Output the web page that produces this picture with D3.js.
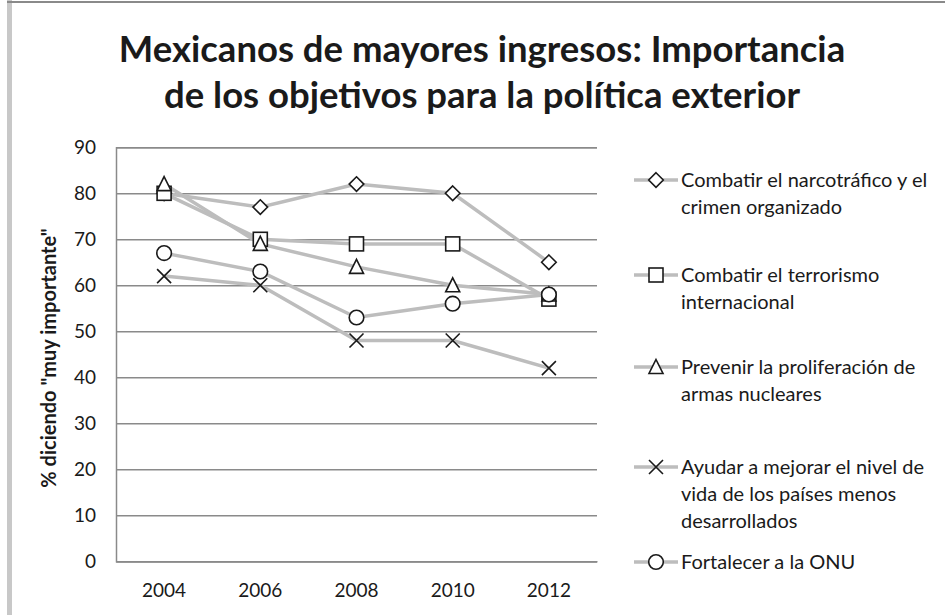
<!DOCTYPE html>
<html><head><meta charset="utf-8">
<script src="https://cdn.jsdelivr.net/npm/d3@7"></script>
<style>
html,body{margin:0;padding:0;background:#fff;}
svg{display:block;}
text{font-family:Lato,"Open Sans",sans-serif;fill:#1a1a1a;}
</style></head>
<body>
<svg id="c" width="945" height="615"></svg>
<script>
const years = ["2004","2006","2008","2010","2012"];
const yTicks = [0,10,20,30,40,50,60,70,80,90];
const seriesNames = [
  ["Combatir el narcotráfico y el","crimen organizado"],
  ["Combatir el terrorismo","internacional"],
  ["Prevenir la proliferación de","armas nucleares"],
  ["Ayudar a mejorar el nivel de","vida de los países menos","desarrollados"],
  ["Fortalecer a la ONU"]
];
const narco = [80,77,82,80,65];
const terror = [80,70,69,69,57];
const prevenir = [82,69,64,60,58];
const ayudar = [62,60,48,48,42];
const onu = [67,63,53,56,58];
const markers = ["diamond","square","triangle","cross","circle"];
const series = [narco,terror,prevenir,ayudar,onu];
const titleLines = ["Mexicanos de mayores ingresos: Importancia","de los objetivos para la política exterior"];
const yTitle = "% diciendo \"muy importante\"";

const svg = d3.select("#c");
// outer frame
svg.append("rect").attr("x",7).attr("y",0).attr("width",5).attr("height",615).attr("fill","#c8c8c8");
svg.append("rect").attr("x",7).attr("y",1).attr("width",938).attr("height",2).attr("fill","#8a8a8a");

const L=116,R=597,T=147.3,B=561.3;
const x = d3.scaleBand().domain(years).range([L,R]);
const y = d3.scaleLinear().domain([0,90]).range([B,T]);

// title
svg.append("g").selectAll("text").data(titleLines).join("text")
  .attr("x",482).attr("y",(d,i)=>62+i*46).attr("text-anchor","middle")
  .style("font-size","36.5px").style("font-weight","bold").text(d=>d);

// gridlines
const yAxis = d3.axisLeft(y).tickValues(yTicks).tickSize(-(R-L)).tickPadding(20);
const gy = svg.append("g").attr("transform",`translate(${L},0)`).call(yAxis);
gy.select(".domain").attr("stroke","#8a8a8a").attr("stroke-width",1.5);
gy.selectAll(".tick line").attr("stroke","#8a8a8a").attr("stroke-width",1.5);
gy.selectAll(".tick text").style("font-size","19px").attr("fill","#1a1a1a");

const xAxis = d3.axisBottom(x).tickSize(0).tickPadding(22);
const gx = svg.append("g").attr("transform",`translate(0,${B})`).call(xAxis);
gx.select(".domain").attr("stroke","#8a8a8a").attr("stroke-width",1.5);
gx.selectAll(".tick text").style("font-size","19px").attr("fill","#1a1a1a");

svg.append("text").attr("transform",`translate(56,358) rotate(-90)`).attr("text-anchor","middle")
  .style("font-size","20px").style("font-weight","bold").text(yTitle);

function drawMarker(g,type,cx,cy){
  const st={stroke:"#1a1a1a","stroke-width":1.6,fill:"#fff"};
  let el;
  if(type==="diamond") el=g.append("path").attr("d",`M${cx},${cy-7.3}L${cx+7.3},${cy}L${cx},${cy+7.3}L${cx-7.3},${cy}Z`);
  else if(type==="square") el=g.append("rect").attr("x",cx-7).attr("y",cy-7).attr("width",14).attr("height",14);
  else if(type==="triangle") el=g.append("path").attr("d",`M${cx},${cy-7.5}L${cx+7},${cy+6.5}L${cx-7},${cy+6.5}Z`);
  else if(type==="circle") el=g.append("circle").attr("cx",cx).attr("cy",cy).attr("r",7.3);
  else { el=g.append("path").attr("d",`M${cx-7},${cy-7}L${cx+7},${cy+7}M${cx+7},${cy-7}L${cx-7},${cy+7}`); st.fill="none"; }
  Object.entries(st).forEach(([k,v])=>el.attr(k,v));
}

const line = d3.line().x((d,i)=>x(years[i])+x.bandwidth()/2).y(d=>y(d));
series.forEach((vals,si)=>{
  const g = svg.append("g");
  g.append("path").attr("d",line(vals)).attr("fill","none").attr("stroke","#bdbdbd").attr("stroke-width",3.5);
});
series.forEach((vals,si)=>{
  const g = svg.append("g");
  vals.forEach((v,i)=>drawMarker(g,markers[si],x(years[i])+x.bandwidth()/2,y(v)));
});

// legend
const legY = [180,275,367,467,562];
const lg = svg.append("g");
seriesNames.forEach((lines,si)=>{
  const yy = legY[si];
  lg.append("line").attr("x1",634).attr("x2",678).attr("y1",yy).attr("y2",yy).attr("stroke","#bdbdbd").attr("stroke-width",3.5);
  drawMarker(lg,markers[si],656,yy);
  lg.append("text").attr("x",681).attr("y",yy).style("font-size","20px")
    .selectAll("tspan").data(lines).join("tspan").attr("x",681).attr("dy",(d,i)=>i===0?"0.35em":"27px").text(d=>d);
});
</script>
</body></html>
